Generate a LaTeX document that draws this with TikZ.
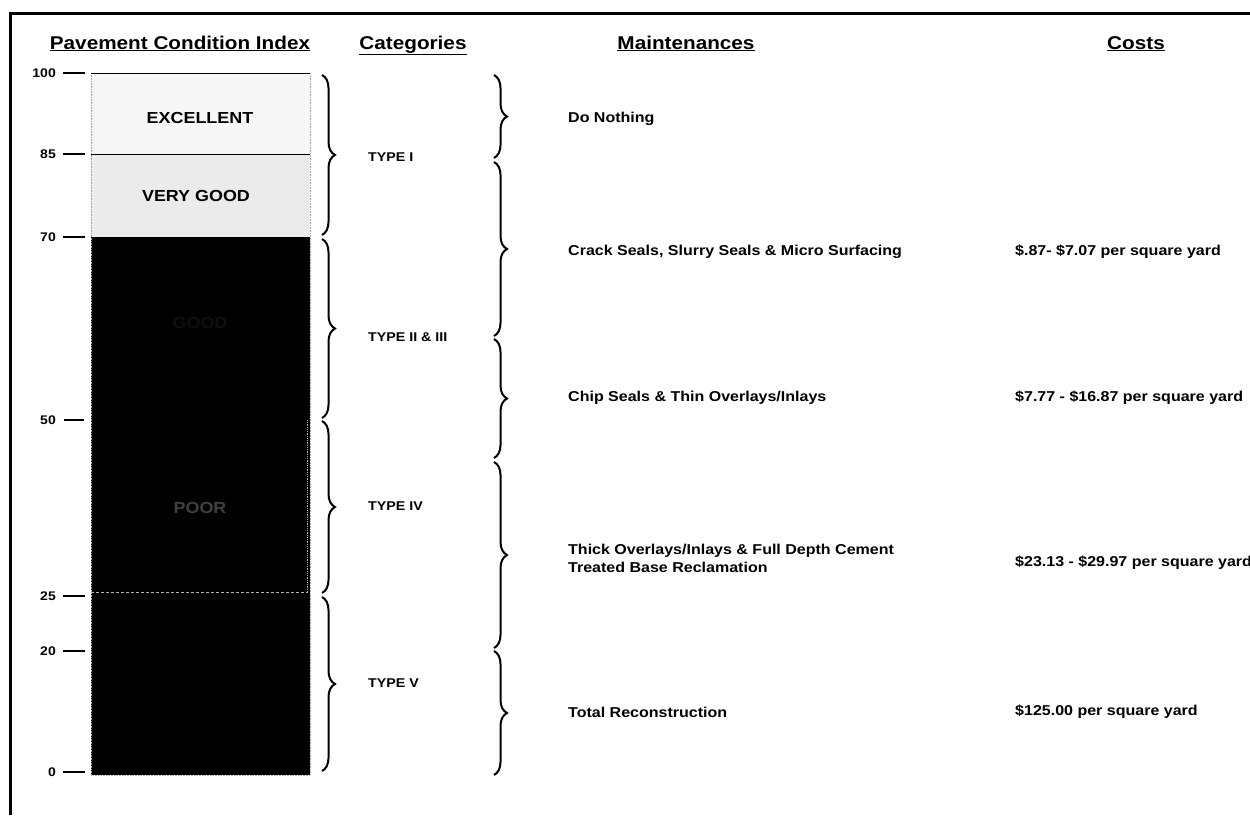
\documentclass[tikz,border=0pt]{standalone}
\usepackage{fontspec}
\setmainfont{Liberation Sans}[FakeStretch=1.12]
\usetikzlibrary{decorations.pathreplacing}
\tikzset{
  hdr/.style={font=\fontsize{18.5}{20}\selectfont\bfseries, inner sep=0pt, anchor=base},
  txt/.style={font=\fontsize{14.3}{18}\selectfont\bfseries, anchor=west, inner sep=0pt, align=left},
  typ/.style={font=\fontsize{12.7}{15}\selectfont\bfseries, anchor=west, inner sep=0pt},
  lvl/.style={font=\fontsize{12.5}{15}\selectfont\bfseries, anchor=east, inner sep=0pt},
  barlbl/.style={font=\fontsize{16}{18}\selectfont\bfseries, inner sep=0pt},
  tick/.style={line width=2.6pt},
  brc/.style={decorate, decoration={brace, amplitude=13pt}, line width=2pt},
}
\begin{document}
\begin{tikzpicture}[x=1pt,y=-1pt]
\clip (0,0) rectangle (1250,815);
\fill[white] (0,0) rectangle (1250,815);
% frame
\draw[line width=3pt] (10,815) -- (10,13) -- (1250,13);
% headers
\node[hdr] (hpci) at (180,49) {\underline{Pavement Condition Index}};
\node[hdr] (hcat) at (413,49) {\underline{Categories}};
\node[hdr] (hmnt) at (686,49) {\underline{Maintenances}};
\node[hdr] (hcst) at (1136,49) {\underline{Costs}};
% bar
\fill[white!97!black] (91,73) rectangle (310,154);
\fill[white!92!black] (91,154) rectangle (310,237);
\fill[black] (91,237) rectangle (310,775);
\draw[gray!70, line width=0.6pt, densely dotted] (91,73) rectangle (310,775);
\draw[black, line width=1pt] (91,154) -- (310,154);
\draw[black, line width=0.8pt] (91,73) -- (310,73);
\draw[gray!60, line width=0.8pt, densely dashed] (91,592) -- (308,592);
\draw[gray!60, line width=0.8pt, densely dotted] (307,420) -- (307,592);
\node[barlbl] (exc) at (200,118) {EXCELLENT};
\node[barlbl] (vg) at (196,196) {VERY GOOD};
\node[barlbl, text=black!94] (gd) at (200,323) {GOOD};
\node[barlbl, text=black!75] (pr) at (200,508) {POOR};
% ticks and levels
\foreach \v/\y in {100/73, 85/154, 70/237, 25/596, 20/651, 0/772}{
  \draw[tick] (63,\y) -- (85,\y);
  \node[lvl] (l\v) at (56,\y) {\v};
}
\draw[line width=1.2pt] (64,420) -- (84,420);
\node[lvl] (l50) at (56,420) {50};
% category braces
\draw[brc] (322,75) -- (322,235);
\draw[brc] (322,239) -- (322,418);
\draw[brc] (322,421) -- (322,593);
\draw[brc] (322,597) -- (322,771);
\node[typ] (t1) at (368,157) {TYPE I};
\node[typ] (t2) at (368,337) {TYPE II \& III};
\node[typ] (t4) at (368,506) {TYPE IV};
\node[typ] (t5) at (368,683) {TYPE V};
% maintenance braces
\draw[brc] (494,75) -- (494,158);
\draw[brc] (494,162) -- (494,336);
\draw[brc] (494,339) -- (494,458);
\draw[brc] (494,462) -- (494,648);
\draw[brc] (494,651) -- (494,775);
\node[txt] (m1) at (568,119) {Do Nothing};
\node[txt] (m2) at (568,252) {Crack Seals, Slurry Seals \& Micro Surfacing};
\node[txt] (m3) at (568,398) {Chip Seals \& Thin Overlays/Inlays};
\node[txt] (m4) at (568,558) {Thick Overlays/Inlays \& Full Depth Cement\\Treated Base Reclamation};
\node[txt] (m5) at (568,712) {Total Reconstruction};
% costs
\node[txt] (c2) at (1015,252) {\$.87- \$7.07 per square yard};
\node[txt] (c3) at (1015,398) {\$7.77 - \$16.87 per square yard};
\node[txt] (c4) at (1015,563) {\$23.13 - \$29.97 per square yard};
\node[txt] (c5) at (1015,712) {\$125.00 per square yard};
\end{tikzpicture}
\end{document}
